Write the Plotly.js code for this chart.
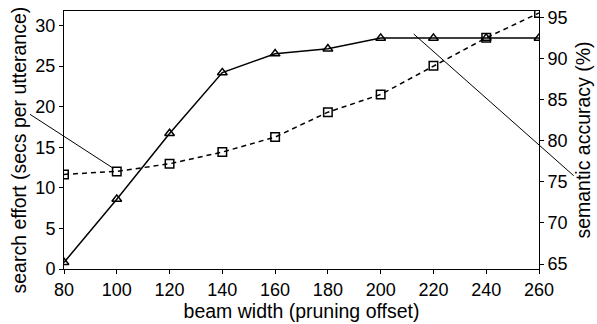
<!DOCTYPE html>
<html>
<head>
<meta charset="utf-8">
<script src="https://cdn.plot.ly/plotly-3.0.1.min.js"></script>
<style>html,body{margin:0;padding:0;background:#fff;}#chart{width:597px;height:324px;}</style>
</head>
<body>
<div id="chart"></div>
<script>
const beamWidth = [80, 100, 120, 140, 160, 180, 200, 220, 240, 260];
const searchEffort = [11.66, 12.03, 12.97, 14.41, 16.26, 19.33, 21.51, 25.04, 28.49, 31.56];
const semanticAccuracy = [65.2, 72.9, 80.9, 88.3, 90.6, 91.2, 92.5, 92.5, 92.5, 92.5];
const xTicks = [80, 100, 120, 140, 160, 180, 200, 220, 240, 260];
const leftTicks = [0, 5, 10, 15, 20, 25, 30];
const rightTicks = [65, 70, 75, 80, 85, 90, 95];
const leftTitle = 'search effort (secs per utterance)';

const fam = 'Liberation Sans, Arial, sans-serif';
const tickFont = {family: fam, size: 18, color: '#000'};
const titleFont = {family: fam, size: 19.5, color: '#000'};

const traces = [
  {
    x: beamWidth, y: semanticAccuracy, yaxis: 'y2', type: 'scatter', mode: 'lines+markers',
    line: {color: '#000', width: 1.5},
    marker: {symbol: 'triangle-up-open', size: 8.5, color: '#000', line: {width: 1.5, color: '#000'}},
    showlegend: false
  },
  {
    x: beamWidth, y: searchEffort, type: 'scatter', mode: 'lines+markers',
    line: {color: '#000', width: 1.5, dash: '5px,4px'},
    marker: {symbol: 'square-open', size: 8.5, color: '#000', line: {width: 1.5, color: '#000'}},
    showlegend: false
  }
];

const layout = {
  width: 597, height: 324,
  margin: {l: 64, r: 58, t: 11, b: 55},
  paper_bgcolor: '#fff', plot_bgcolor: '#fff',
  font: tickFont,
  xaxis: {
    range: [80, 260], tickvals: xTicks, ticktext: xTicks.map(String),
    showgrid: false, zeroline: false, showline: true, linecolor: '#000', linewidth: 1,
    mirror: true, ticks: 'outside', ticklen: 4, tickcolor: '#000',
    tickfont: tickFont,
    title: {text: 'beam width (pruning offset)', font: titleFont, standoff: 2}
  },
  yaxis: {
    range: [0, 31.8], tickvals: leftTicks,
    showgrid: false, zeroline: false, showline: true, linecolor: '#000', linewidth: 1,
    ticks: 'outside', ticklen: 4, tickcolor: '#000',
    tickfont: tickFont
  },
  yaxis2: {
    range: [64.4, 95.8], tickvals: rightTicks, overlaying: 'y', side: 'right',
    showgrid: false, zeroline: false, showline: true, linecolor: '#000', linewidth: 1,
    ticks: 'outside', ticklen: 4, tickcolor: '#000',
    tickfont: tickFont,
    title: {text: 'semantic accuracy (%)', font: titleFont, standoff: 9}
  },
  annotations: [
    {text: leftTitle, xref: 'paper', yref: 'paper', x: -0.0937, y: 0.461, textangle: -90,
     xanchor: 'center', yanchor: 'middle', showarrow: false, font: titleFont}
  ],
  shapes: [
    {type: 'line', xref: 'paper', yref: 'paper', x0: -0.0716, y0: 0.5996, x1: 0.1038, y1: 0.3903, line: {color: '#000', width: 1}},
    {type: 'line', xref: 'paper', yref: 'paper', x0: 0.7362, y0: 0.9109, x1: 1.0731, y1: 0.3616, line: {color: '#000', width: 1}}
  ]
};

Plotly.newPlot('chart', traces, layout, {displayModeBar: false, staticPlot: true});
</script>
</body>
</html>
